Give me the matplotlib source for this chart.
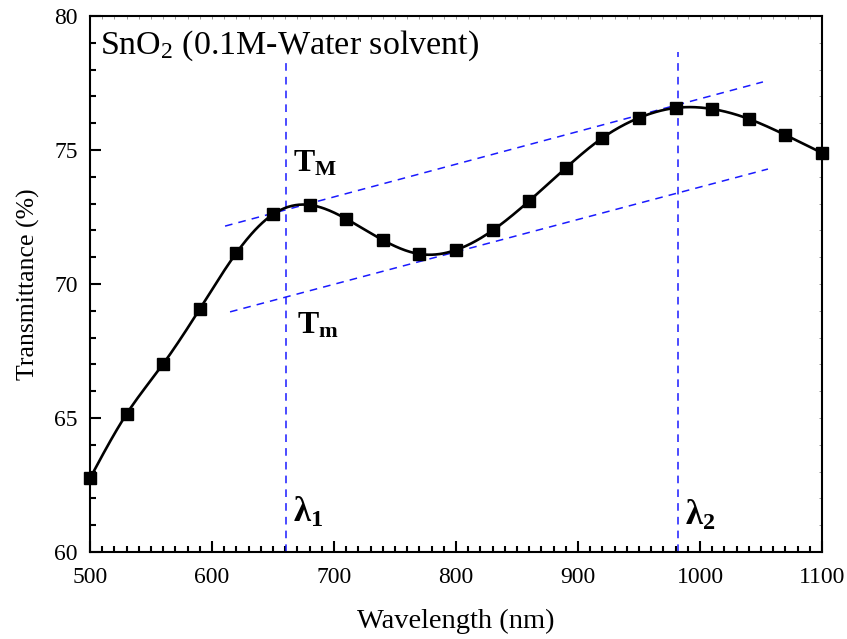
import numpy as np
import matplotlib
matplotlib.use("Agg")
import matplotlib.pyplot as plt
from matplotlib.ticker import MultipleLocator

plt.rcParams['font.family'] = ['Liberation Serif', 'DejaVu Serif']
plt.rcParams['mathtext.fontset'] = 'custom'
plt.rcParams['mathtext.rm'] = 'Liberation Serif'
plt.rcParams['mathtext.it'] = 'Liberation Serif:italic'
plt.rcParams['mathtext.bf'] = 'Liberation Serif:bold'

# Data
wavelength = [500, 530, 560, 590, 620, 650, 680, 710, 740, 770, 800, 830,
              860, 890, 920, 950, 980, 1010, 1040, 1070, 1100]
transmittance = [62.75, 65.15, 67.02, 69.07, 71.16, 72.6, 72.95, 72.43, 71.64,
                 71.12, 71.27, 72.0, 73.1, 74.33, 75.45, 76.2, 76.57, 76.53,
                 76.16, 75.56, 74.89]

# Envelope lines (T_M upper, T_m lower) and wavelength markers
upper_env_x = [610.7, 1051.6]
upper_env_y = [72.16, 77.54]
lower_env_x = [614.8, 1055.7]
lower_env_y = [68.96, 74.29]
lambda1 = 661
lambda2 = 982
lambda1_top = 78.4
lambda2_top = 78.66


def natural_spline(x, y, xs):
    x = np.asarray(x, float); y = np.asarray(y, float)
    n = len(x)
    h = np.diff(x)
    A = np.zeros((n, n)); b = np.zeros(n)
    A[0, 0] = 1; A[-1, -1] = 1
    for i in range(1, n - 1):
        A[i, i - 1] = h[i - 1]
        A[i, i] = 2 * (h[i - 1] + h[i])
        A[i, i + 1] = h[i]
        b[i] = 3 * ((y[i + 1] - y[i]) / h[i] - (y[i] - y[i - 1]) / h[i - 1])
    c = np.linalg.solve(A, b)
    bb = np.zeros(n - 1); d = np.zeros(n - 1)
    for i in range(n - 1):
        bb[i] = (y[i + 1] - y[i]) / h[i] - h[i] * (2 * c[i] + c[i + 1]) / 3
        d[i] = (c[i + 1] - c[i]) / (3 * h[i])
    idx = np.clip(np.searchsorted(x, xs) - 1, 0, n - 2)
    dx = xs - x[idx]
    return y[idx] + bb[idx] * dx + c[idx] * dx ** 2 + d[idx] * dx ** 3


fig = plt.figure(figsize=(8.47, 6.39), dpi=100)
ax = fig.add_axes([90 / 847, 1 - 552 / 639, (822 - 90) / 847, (552 - 16) / 639])

xs = np.linspace(wavelength[0], wavelength[-1], 600)
ax.plot(xs, natural_spline(wavelength, transmittance, xs), color='black', lw=1.9, zorder=3)
ax.plot(wavelength, transmittance, ls='none', marker='s', ms=8.5, color='black',
        clip_on=False, zorder=4)

dash = dict(color='#1a1aff', lw=1.1, ls=(0, (5, 4)), zorder=2)
ax.plot(upper_env_x, upper_env_y, **dash)
ax.plot(lower_env_x, lower_env_y, **dash)
ax.plot([lambda1, lambda1], [60, lambda1_top], **dash)
ax.plot([lambda2, lambda2], [60, lambda2_top], **dash)

ax.set_xlim(500, 1100)
ax.set_ylim(60, 80)
ax.xaxis.set_major_locator(MultipleLocator(100))
ax.xaxis.set_minor_locator(MultipleLocator(10))
ax.yaxis.set_major_locator(MultipleLocator(5))
ax.yaxis.set_minor_locator(MultipleLocator(1))

ax.tick_params(which='both', direction='in', labelsize=17, width=1.5)
ax.tick_params(axis='x', which='both', pad=11)
ax.tick_params(axis='y', which='both', pad=9)
ax.tick_params(which='major', length=8)
ax.tick_params(which='minor', length=4.5)
for s in ax.spines.values():
    s.set_linewidth(1.5)

# faint ticks on the top and right spines
secx = ax.secondary_xaxis('top')
secx.xaxis.set_major_locator(MultipleLocator(100))
secx.xaxis.set_minor_locator(MultipleLocator(10))
secx.tick_params(which='both', direction='in', length=2.5, width=0.6,
                 color='#888888', labeltop=False)
secx.spines['top'].set_visible(False)
secy = ax.secondary_yaxis('right')
secy.yaxis.set_major_locator(MultipleLocator(5))
secy.yaxis.set_minor_locator(MultipleLocator(1))
secy.tick_params(which='both', direction='in', length=2.5, width=0.6,
                 color='#888888', labelright=False)
secy.spines['right'].set_visible(False)

ax.set_xlabel('Wavelength (nm)', fontsize=20.5, labelpad=15)
ax.set_ylabel('Transmittance (%)', fontsize=18.5, labelpad=10)

ax.text(508, 78.6, 'SnO$_2$ (0.1M-Water solvent)', fontsize=24.5, va='baseline')
ax.text(666.4, 74.18, r'$\mathbf{T_M}$', fontsize=23, va='baseline')
ax.text(669.7, 68.17, r'$\mathbf{T_m}$', fontsize=23, va='baseline')
ax.text(666.4, 61.12, r'$\mathbf{\lambda_1}$', fontsize=25, va='baseline')
ax.text(987.7, 61.0, r'$\mathbf{\lambda_2}$', fontsize=25, va='baseline')

fig.savefig('out.png', dpi=100)
